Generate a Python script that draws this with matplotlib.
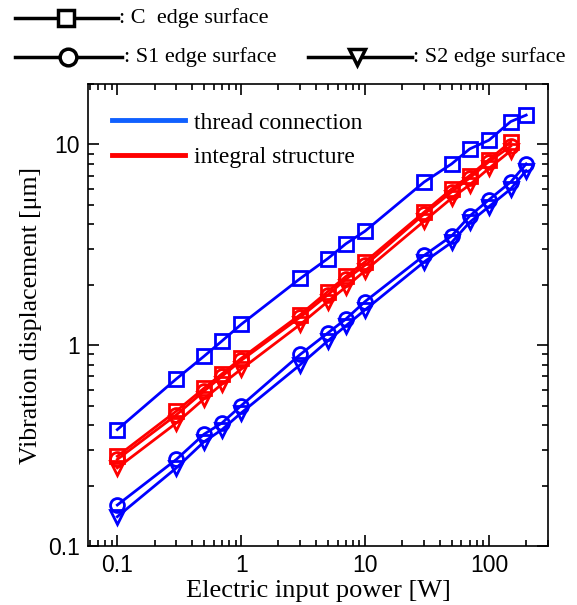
import matplotlib
matplotlib.use("Agg")
import matplotlib.pyplot as plt
from matplotlib.lines import Line2D
from matplotlib.ticker import LogLocator, NullFormatter, FixedLocator, FixedFormatter

# input power [W]
power_thread = [0.1, 0.3, 0.5, 0.7, 1, 3, 5, 7, 10, 30, 50, 70, 100, 150, 200]
power_integral = [0.1, 0.3, 0.5, 0.7, 1, 3, 5, 7, 10, 30, 50, 70, 100, 150]

# vibration displacement [um], thread connection
thread_C = [0.38, 0.68, 0.88, 1.05, 1.27, 2.15, 2.7, 3.2, 3.7, 6.5, 8.0, 9.5, 10.5, 13.0, 14.0]
thread_S1 = [0.16, 0.27, 0.36, 0.41, 0.50, 0.90, 1.15, 1.35, 1.65, 2.8, 3.5, 4.4, 5.3, 6.5, 8.0]
thread_S2 = [0.14, 0.245, 0.33, 0.38, 0.46, 0.80, 1.05, 1.25, 1.5, 2.6, 3.25, 4.1, 4.9, 6.0, 7.4]

# integral structure
integral_C = [0.28, 0.47, 0.61, 0.72, 0.86, 1.42, 1.85, 2.2, 2.6, 4.6, 6.0, 7.0, 8.4, 10.3]
integral_S1 = [0.27, 0.45, 0.59, 0.70, 0.84, 1.38, 1.78, 2.13, 2.5, 4.5, 5.8, 6.8, 8.2, 9.8]
integral_S2 = [0.245, 0.41, 0.54, 0.64, 0.76, 1.27, 1.65, 1.95, 2.35, 4.15, 5.4, 6.3, 7.6, 9.3]

serif = "Liberation Serif"
sans = "Liberation Sans"

fig = plt.figure(figsize=(5.77, 6.05), dpi=100)
W, H = 577, 605
ax = fig.add_axes([88 / W, 1 - 546 / H, (548 - 88) / W, (546 - 84) / H])

blue = "#0000ff"
red = "#ff0000"
mk = dict(markersize=10, markerfacecolor="none", markeredgewidth=2, linewidth=2)

ax.plot(power_thread, thread_C, color=blue, marker="s", **mk)
ax.plot(power_thread, thread_S1, color=blue, marker="o", **mk)
ax.plot(power_thread, thread_S2, color=blue, marker="v", **mk)
ax.plot(power_integral, integral_C, color=red, marker="s", **mk)
ax.plot(power_integral, integral_S1, color=red, marker="o", **mk)
ax.plot(power_integral, integral_S2, color=red, marker="v", **mk)

ax.set_xscale("log")
ax.set_yscale("log")
ax.set_xlim(0.058, 300)
ax.set_ylim(0.1, 20)

ax.xaxis.set_major_locator(FixedLocator([0.1, 1, 10, 100]))
ax.xaxis.set_major_formatter(FixedFormatter(["0.1", "1", "10", "100"]))
ax.yaxis.set_major_locator(FixedLocator([0.1, 1, 10]))
ax.yaxis.set_major_formatter(FixedFormatter(["0.1", "1", "10"]))
ax.xaxis.set_minor_locator(LogLocator(base=10, subs=range(2, 10)))
ax.yaxis.set_minor_locator(LogLocator(base=10, subs=range(2, 10)))
ax.xaxis.set_minor_formatter(NullFormatter())
ax.yaxis.set_minor_formatter(NullFormatter())

ax.tick_params(which="both", direction="in", top=True, right=True, width=1.2)
ax.tick_params(which="major", length=8, labelsize=16.5, pad=6)
ax.tick_params(which="minor", length=4)
for lab in ax.get_xticklabels() + ax.get_yticklabels():
    lab.set_family(sans)
for sp in ax.spines.values():
    sp.set_linewidth(1.2)

ax.set_xlabel("Electric input power [W]", fontsize=19, family=serif, labelpad=2)
ax.set_ylabel("Vibration displacement [\u03bcm]", fontsize=18.5, family=serif, labelpad=4)

handles = [Line2D([], [], color="#1060ff", linewidth=3.5),
           Line2D([], [], color=red, linewidth=3.5)]
leg = ax.legend(handles, ["thread connection", "integral structure"],
                loc="upper left", bbox_to_anchor=(0.005, 0.985), frameon=False,
                handlelength=3.1, handletextpad=0.4, labelspacing=0.55,
                prop={"family": serif, "size": 17})

# marker key above the axes
top = fig.add_axes([0, 0, 1, 1])
top.set_xlim(0, W)
top.set_ylim(H, 0)
top.axis("off")
line_kw = dict(color="black", linewidth=2.5)
mark_kw = dict(color="black", markersize=12, markerfacecolor="white",
               markeredgewidth=2.5, linestyle="none")
top.plot([15, 118], [18, 18], **line_kw)
top.plot([66], [18], marker="s", **mark_kw)
top.plot([15, 122], [57, 57], **line_kw)
top.plot([68], [57], marker="o", **mark_kw)
top.plot([308, 412], [57, 57], **line_kw)
top.plot([357], [57], marker="v", **mark_kw)
top.text(119, 18, ": C  edge surface", family=serif, fontsize=16, va="center")
top.text(124, 57, ": S1 edge surface", family=serif, fontsize=16, va="center")
top.text(413, 57, ": S2 edge surface", family=serif, fontsize=16, va="center")

fig.savefig("out.png", dpi=100)
